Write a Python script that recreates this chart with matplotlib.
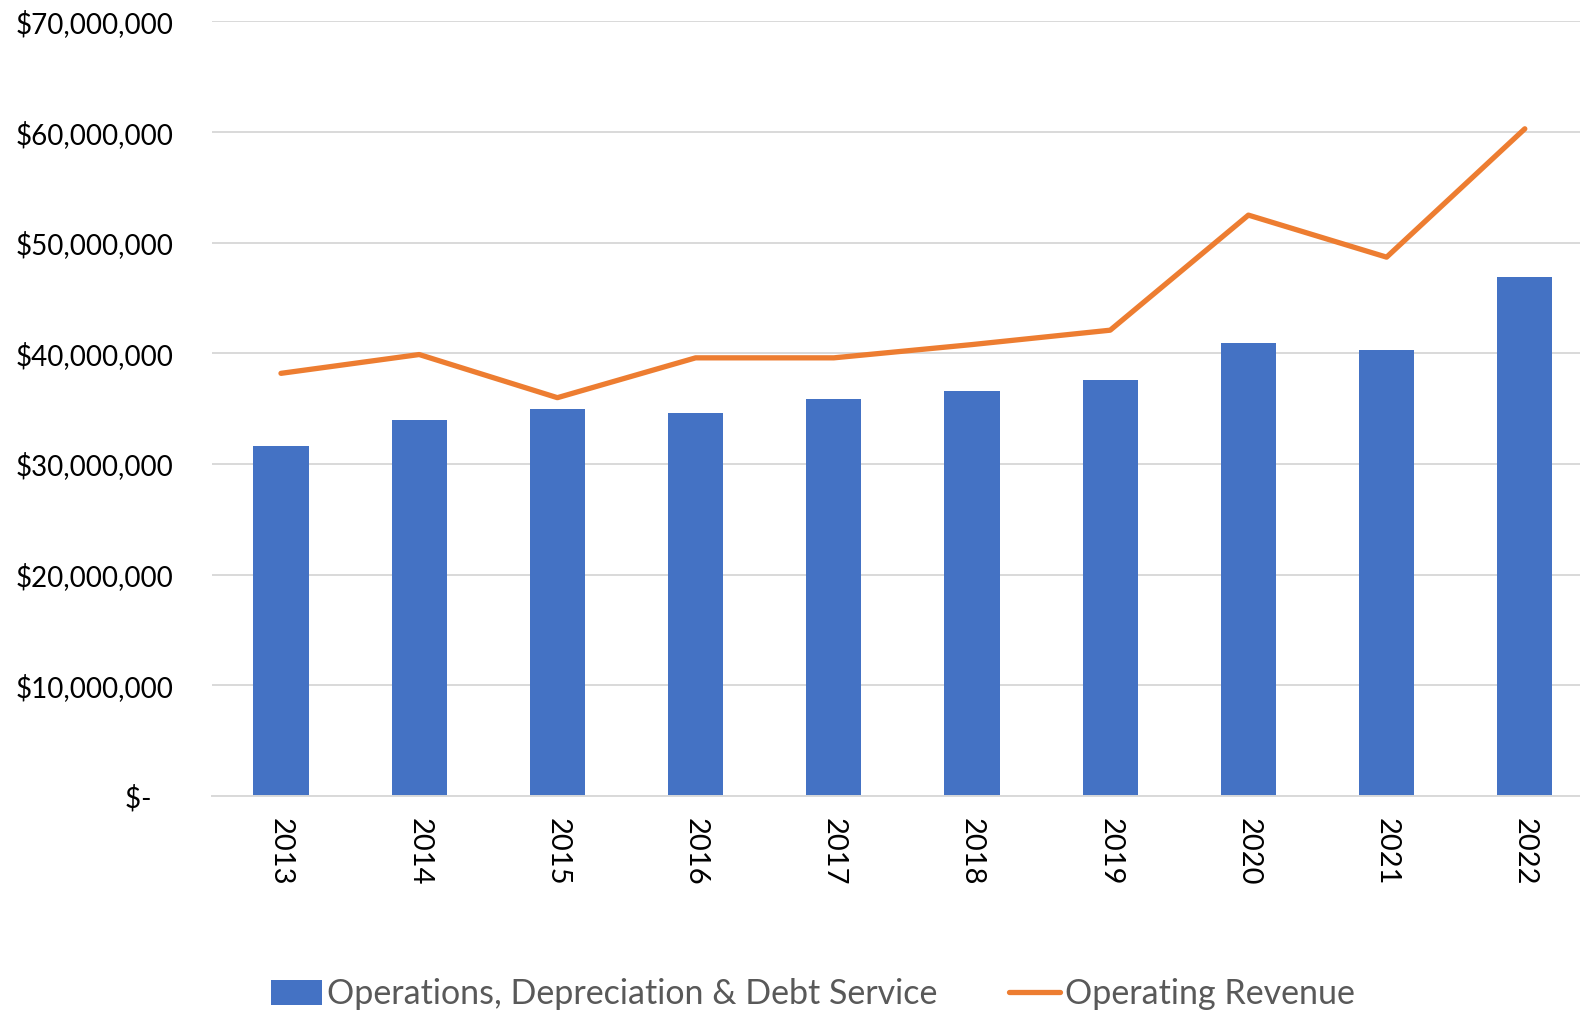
import matplotlib
matplotlib.use('Agg')
import matplotlib.pyplot as plt
from matplotlib.ticker import FixedLocator, FixedFormatter

plt.rcParams['font.family'] = ['Lato', 'DejaVu Sans']

# values
YEARS = ["2013", "2014", "2015", "2016", "2017", "2018", "2019", "2020", "2021", "2022"]
COSTS = [31.6e6, 34.0e6, 35.0e6, 34.6e6, 35.9e6, 36.6e6, 37.6e6, 40.9e6, 40.3e6, 46.9e6]
REVENUE = [38.2e6, 39.9e6, 36.0e6, 39.6e6, 39.6e6, 40.8e6, 42.1e6, 52.5e6, 48.7e6, 60.3e6]
Y_TICKS = [0, 10e6, 20e6, 30e6, 40e6, 50e6, 60e6, 70e6]
Y_LABELS = ["$-   ", "$10,000,000", "$20,000,000", "$30,000,000", "$40,000,000",
            "$50,000,000", "$60,000,000", "$70,000,000"]

BLUE = '#4472C4'
ORANGE = '#ED7D31'
GRID = '#D9D9D9'

fig = plt.figure(figsize=(15.8, 10.13), dpi=100)
ax = fig.add_axes([0.1341, 0.2142, 0.8747, 0.7646])

x = list(range(len(YEARS)))
bars = ax.bar(x, COSTS, width=0.4, color=BLUE, zorder=2,
              label="Operations, Depreciation & Debt Service")
line, = ax.plot(x, REVENUE, color=ORANGE, linewidth=3.8, solid_capstyle='round',
                solid_joinstyle='round', zorder=3, label="Operating Revenue")

ax.set_xlim(-0.5, len(YEARS) - 0.5)
ax.set_ylim(0, 70e6)
ax.yaxis.set_major_locator(FixedLocator(Y_TICKS))
ax.yaxis.set_major_formatter(FixedFormatter(Y_LABELS))
ax.set_xticks(x)
ax.set_xticklabels(YEARS, rotation=-90)

ax.grid(axis='y', color=GRID, linewidth=1.4, zorder=0)
ax.set_axisbelow(True)
for s in ['top', 'right', 'left']:
    ax.spines[s].set_visible(False)
ax.spines['bottom'].set_color(GRID)
ax.spines['bottom'].set_linewidth(1.4)
ax.tick_params(axis='y', length=0, pad=28, labelsize=20, labelcolor='black')
ax.tick_params(axis='x', length=0, pad=16, labelsize=21, labelcolor='black')

leg = ax.legend([bars, line], [bars.get_label(), line.get_label()],
                loc='upper left', bbox_to_anchor=(0.033, -0.218), ncol=2,
                frameon=False, fontsize=24.5, handlelength=1.5, handleheight=0.75,
                handletextpad=0.15, columnspacing=2.1, borderaxespad=0)
for t in leg.get_texts():
    t.set_color('#595959')

fig.savefig('out.png', dpi=100)
